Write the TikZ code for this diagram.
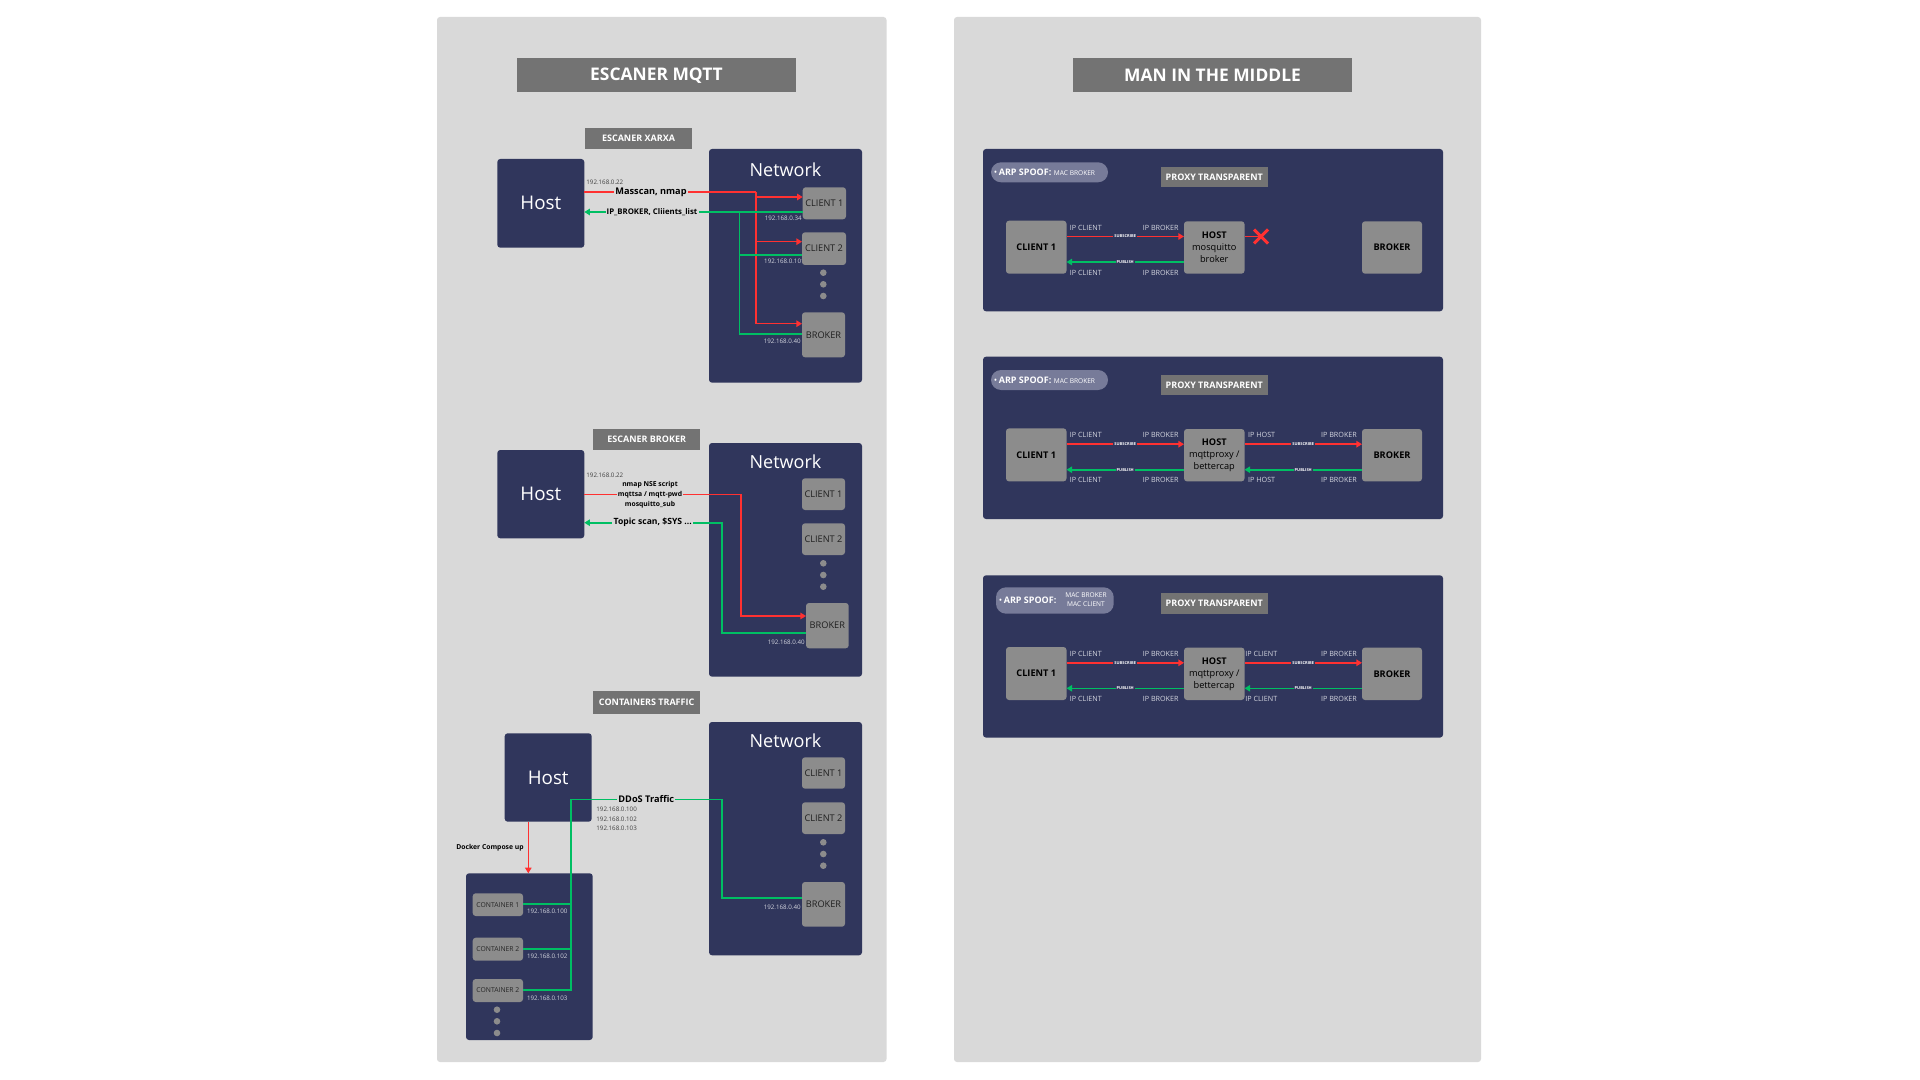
\documentclass[tikz,border=0pt]{standalone}
\usepackage{fontspec}
\setmainfont{Open Sans}
\usetikzlibrary{fit,arrows.meta}
\definecolor{panelgray}{HTML}{D9D9D9}
\definecolor{titlegray}{HTML}{737373}
\definecolor{navy}{HTML}{30365C}
\definecolor{nodegray}{HTML}{8C8C8C}
\definecolor{lred}{HTML}{FF3131}
\definecolor{lgreen}{HTML}{00BF63}
\definecolor{pillc}{HTML}{777B99}
\definecolor{iplight}{HTML}{D2D4DE}
\newcommand\fsz[1]{\fontsize{#1}{#1}\selectfont}
% \rbox[style]{name}{(x1,y1)}{(x2,y2)}{text}
\newcommand\rbox[5][]{%
  \node[#1, fit={#3 #4}] (#2) {};
  \node[#1, fill=none, draw=none, inner sep=0pt, rounded corners=0pt] (#2-t) at (#2.center) {#5};}
\begin{document}
\begin{tikzpicture}[x=0.5pt,y=-0.5pt,
  box/.style={inner sep=0pt, outer sep=0pt, rounded corners=1.5pt},
  navybox/.style={box, fill=navy},
  hostbox/.style={box, fill=navy, text=white, font=\fsz{9.4}},
  graybox/.style={box, fill=nodegray, text=black!88, font=\fsz{4.6}},
  cbox/.style={box, fill=nodegray, text=black!85, font=\fsz{3.4}},
  mgraybox/.style={box, fill=nodegray, text=black, align=center, font=\fontsize{4.6}{6}\selectfont},
  titlebox/.style={inner sep=0pt, fill=titlegray, text=white, font=\bfseries\fsz{8.7}},
  tagbox/.style={inner sep=0pt, fill=titlegray, text=white, font=\bfseries\fsz{4.5}},
  pillbox/.style={inner sep=0pt, fill=pillc, rounded corners=5pt},
  redln/.style={draw=lred, line width=0.8pt},
  grnln/.style={draw=lgreen, line width=0.8pt},
  arr/.style={-{Triangle[length=2.8pt,width=3.2pt]}},
  lbl/.style={inner sep=0.6pt, fill=panelgray, text=black, font=\bfseries\fsz{4.6}},
  ipdark/.style={inner sep=0pt, text=black!75, font=\fsz{3.1}},
  iplite/.style={inner sep=0pt, text=iplight, font=\fsz{3.1}},
  mip/.style={inner sep=0pt, text=iplight, font=\fsz{3.6}},
  sublab/.style={fill=navy, text=white, inner sep=0.5pt, font=\bfseries\fsz{2}},
  dotn/.style={circle, fill=nodegray, inner sep=0pt, minimum size=3.3pt},
  nettitle/.style={text=white, font=\fsz{9}, inner sep=0pt}]

\fill[white] (0,0) rectangle (1920,1080);
\useasboundingbox (0,0) rectangle (1920,1080);

% ===================== LEFT PANEL =====================
\node[box, fill=panelgray, fit={(437,17)(886.5,1062)}] (lpanel) {};
\rbox[titlebox]{t1}{(517,58)}{(796,92.5)}{ESCANER MQTT}

% ---- Section 1: ESCANER XARXA
\rbox[tagbox]{s1}{(585,128)}{(692,148.7)}{ESCANER XARXA}
\rbox[hostbox]{host1}{(497.3,159)}{(584.3,247.7)}{Host}
\node[navybox, fit={(709,149)(862,382.7)}] (net1) {};
\node[nettitle] (net1t) at (785.5,169.5) {Network};
\node[iplite, anchor=east] (ip11) at (802,218) {192.168.0.34};
\node[iplite, anchor=east] (ip12) at (805,261) {192.168.0.101};
\node[iplite, anchor=east] (ip13) at (801,341) {192.168.0.40};
\rbox[graybox]{c11}{(802.7,187.3)}{(846,219.3)}{CLIENT 1}
\rbox[graybox]{c12}{(802,232.3)}{(846,265)}{CLIENT 2}
\node[dotn] (d11) at (823.3,272.7) {};
\node[dotn] (d12) at (823.3,284.3) {};
\node[dotn] (d13) at (823.3,296) {};
\rbox[graybox]{b1}{(802,312.3)}{(845,357.3)}{BROKER}

\coordinate (j1) at (755.7,192);
\coordinate (g1) at (739.3,212);
\draw[redln] (host1.east|-j1) -- (j1);
\draw[redln,arr] (j1) |- (c11.west|-0,197);
\draw[redln,arr] (j1) |- (c12.west|-0,241.7);
\draw[redln,arr] (j1) |- (b1.west|-0,323.7);
\draw[grnln,arr] (c11.west|-g1) -- (host1.east|-g1);
\draw[grnln] (c12.west|-0,255) -| (g1);
\draw[grnln] (b1.west|-0,334.3) -| (g1);

\node[lbl] (l11) at (651,192) {Masscan, nmap};
\node[lbl, font=\bfseries\fsz{3.9}] (l12) at (652,212) {IP\_BROKER, Cliients\_list};
\node[ipdark, anchor=west] (ip10) at (586,182) {192.168.0.22};

% ---- Section 2: ESCANER BROKER
\rbox[tagbox]{s2}{(593,429)}{(700.3,450)}{ESCANER BROKER}
\rbox[hostbox]{host2}{(497.3,450)}{(584.3,538.3)}{Host}
\node[navybox, fit={(709,443)(862,676.7)}] (net2) {};
\node[nettitle] (net2t) at (785.5,461.5) {Network};
\rbox[graybox]{c21}{(802,478.3)}{(845,510)}{CLIENT 1}
\rbox[graybox]{c22}{(802,523.3)}{(845,555)}{CLIENT 2}
\node[dotn] (d21) at (823.3,563.3) {};
\node[dotn] (d22) at (823.3,575) {};
\node[dotn] (d23) at (823.3,586.7) {};
\rbox[graybox]{b2}{(806,603)}{(848.7,648.3)}{BROKER}
\node[iplite, anchor=east] (ip23) at (805,642.3) {192.168.0.40};

\coordinate (j2) at (741,494.3);
\coordinate (g2) at (722,522.7);
\draw[redln,arr] (host2.east|-j2) -- (j2) |- (b2.west|-0,616);
\draw[grnln,arr] (b2.west|-0,632.7) -| (g2) -- (host2.east|-g2);

\node[ipdark, anchor=west] (ip20) at (586,475.3) {192.168.0.22};
\node[lbl, align=center, font=\bfseries\fontsize{3.4}{4.8}\selectfont] (l21) at (650,494.8) {nmap NSE script\\mqttsa / mqtt-pwd\\mosquitto\_sub};
\node[lbl, font=\bfseries\fsz{4.3}] (l22) at (652.7,522.7) {Topic scan, \$SYS ...};

% ---- Section 3: CONTAINERS TRAFFIC
\rbox[tagbox]{s3}{(593,690.7)}{(700.3,714)}{CONTAINERS TRAFFIC}
\rbox[hostbox]{host3}{(504.7,733.3)}{(591.7,821.7)}{Host}
\node[navybox, fit={(709,722)(862,955.3)}] (net3) {};
\node[nettitle] (net3t) at (785.5,740.5) {Network};
\rbox[graybox]{c31}{(802,757.3)}{(845,788.7)}{CLIENT 1}
\rbox[graybox]{c32}{(802,802.3)}{(845,834)}{CLIENT 2}
\node[dotn] (d31) at (823.3,842.3) {};
\node[dotn] (d32) at (823.3,854) {};
\node[dotn] (d33) at (823.3,865.7) {};
\rbox[graybox]{b3}{(802,882)}{(845,926.7)}{BROKER}
\node[iplite, anchor=east] (ip33) at (801,907.3) {192.168.0.40};

\node[navybox, fit={(466,873.3)(592.7,1040)}] (cont) {};
\rbox[cbox]{k1}{(472.7,893.3)}{(523,916)}{CONTAINER 1}
\rbox[cbox]{k2}{(472.7,937.7)}{(523,960.7)}{CONTAINER 2}
\rbox[cbox]{k3}{(472.7,979)}{(523,1002)}{CONTAINER 2}
\node[dotn] (e1) at (497,1009.7) {};
\node[dotn] (e2) at (497,1021.3) {};
\node[dotn] (e3) at (497,1033) {};
\node[iplite, anchor=west] (ipk1) at (526.7,911.3) {192.168.0.100};
\node[iplite, anchor=west] (ipk2) at (526.7,956.3) {192.168.0.102};
\node[iplite, anchor=west] (ipk3) at (526.7,998.3) {192.168.0.103};

\coordinate (g3) at (571,799.3);
\coordinate (g3r) at (722,799.3);
\draw[grnln] (k1.east|-0,904) -| (g3);
\draw[grnln] (k3.east|-0,990) -| (g3);
\draw[grnln] (k2.east|-0,949) -- (g3|-0,949);
\draw[grnln] (g3) -- (g3r) |- (b3.west|-0,898);
\draw[redln,arr] (host3.south-|528.3,0) -- (cont.north-|528.3,0);

\node[lbl] (l31) at (646.3,799.3) {DDoS Traffic};
\node[ipdark, anchor=west, align=left, font=\fontsize{3.1}{4.75}\selectfont] (ip30) at (596,819) {192.168.0.100\\192.168.0.102\\192.168.0.103};
\node[lbl, font=\bfseries\fsz{3.4}] (l32) at (490,847.7) {Docker Compose up};

% ===================== RIGHT PANEL =====================
\node[box, fill=panelgray, fit={(954,17)(1481,1062)}] (rpanel) {};
\rbox[titlebox]{t2}{(1073,58)}{(1352,92.5)}{MAN IN THE MIDDLE}

% ---- MITM 1
\node[navybox, fit={(983,149)(1443,311.3)}] (m1) {};
\node[pillbox, fit={(991,162.3)(1108,182.3)}] (m1p) {};
\node[anchor=west, text=white, inner sep=0pt] (m1pt) at (993.5,172.3) {\fsz{4.5}•\,{\bfseries ARP SPOOF:}\;{\fsz{3.3}MAC BROKER}};
\rbox[tagbox]{m1x}{(1160.5,167)}{(1268,187.5)}{PROXY TRANSPARENT}
\rbox[mgraybox]{m1c}{(1006,220.7)}{(1066.5,273.7)}{\textbf{CLIENT 1}}
\rbox[mgraybox]{m1h}{(1184,221.3)}{(1244.5,273.7)}{\textbf{HOST}\\mosquitto\\broker}
\rbox[mgraybox]{m1b}{(1362,221.3)}{(1422,273.7)}{\textbf{BROKER}}
\draw[redln,arr] (m1c.east|-0,236.5) -- (m1h.west|-0,236.5) node[midway, sublab] {SUBSCRIBE};
\draw[grnln,arr] (m1h.west|-0,262) -- (m1c.east|-0,262) node[midway, sublab] {PUBLISH};
\node[mip, anchor=west] (m1l1) at (1069.5,227.5) {IP CLIENT};
\node[mip, anchor=east] (m1l2) at (1179,227.5) {IP BROKER};
\node[mip, anchor=west] (m1l3) at (1069.5,272.5) {IP CLIENT};
\node[mip, anchor=east] (m1l4) at (1179,272.5) {IP BROKER};
\coordinate (m1k) at (1261,236.5);
\draw[redln] (m1h.east|-m1k) -- (m1k);
\draw[lred, line width=1.5pt] ([shift={(-7,-7)}]m1k) -- ([shift={(7,7)}]m1k);
\draw[lred, line width=1.5pt] ([shift={(-7,7)}]m1k) -- ([shift={(7,-7)}]m1k);

% ---- MITM 2
\node[navybox, fit={(983,356.7)(1443,519)}] (m2) {};
\node[pillbox, fit={(991,370)(1108,390)}] (m2p) {};
\node[anchor=west, text=white, inner sep=0pt] (m2pt) at (993.5,380) {\fsz{4.5}•\,{\bfseries ARP SPOOF:}\;{\fsz{3.3}MAC BROKER}};
\rbox[tagbox]{m2x}{(1160.5,374.7)}{(1268,395.2)}{PROXY TRANSPARENT}
\rbox[mgraybox]{m2c}{(1006,428.4)}{(1066.5,481.4)}{\textbf{CLIENT 1}}
\rbox[mgraybox]{m2h}{(1184,429)}{(1244.5,481.4)}{\textbf{HOST}\\mqttproxy /\\bettercap}
\rbox[mgraybox]{m2b}{(1362,429)}{(1422,481.4)}{\textbf{BROKER}}
\draw[redln,arr] (m2c.east|-0,444.2) -- (m2h.west|-0,444.2) node[midway, sublab] {SUBSCRIBE};
\draw[grnln,arr] (m2h.west|-0,469.7) -- (m2c.east|-0,469.7) node[midway, sublab] {PUBLISH};
\draw[redln,arr] (m2h.east|-0,444.2) -- (m2b.west|-0,444.2) node[midway, sublab] {SUBSCRIBE};
\draw[grnln,arr] (m2b.west|-0,469.7) -- (m2h.east|-0,469.7) node[midway, sublab] {PUBLISH};
\node[mip, anchor=west] (m2l1) at (1069.5,435.2) {IP CLIENT};
\node[mip, anchor=east] (m2l2) at (1179,435.2) {IP BROKER};
\node[mip, anchor=west] (m2l3) at (1069.5,480.2) {IP CLIENT};
\node[mip, anchor=east] (m2l4) at (1179,480.2) {IP BROKER};
\node[mip, anchor=west] (m2l5) at (1247.7,435.2) {IP HOST};
\node[mip, anchor=east] (m2l6) at (1357.3,435.2) {IP BROKER};
\node[mip, anchor=west] (m2l7) at (1247.7,480.2) {IP HOST};
\node[mip, anchor=east] (m2l8) at (1357.3,480.2) {IP BROKER};

% ---- MITM 3
\node[navybox, fit={(983,575.3)(1443,737.6)}] (m3) {};
\node[pillbox, fit={(996,587.3)(1113.7,613.7)}] (m3p) {};
\node[anchor=west, text=white, inner sep=0pt] (m3pt) at (998.5,600.5) {\fsz{4.5}•\,{\bfseries ARP SPOOF:}};
\node[text=white, inner sep=0pt, align=center, font=\fontsize{3.3}{4.8}\selectfont] (m3pm) at (1086,599.5) {MAC BROKER\\MAC CLIENT};
\rbox[tagbox]{m3x}{(1160.5,593.3)}{(1268,613.8)}{PROXY TRANSPARENT}
\rbox[mgraybox]{m3c}{(1006,647)}{(1066.5,700)}{\textbf{CLIENT 1}}
\rbox[mgraybox]{m3h}{(1184,647.6)}{(1244.5,700)}{\textbf{HOST}\\mqttproxy /\\bettercap}
\rbox[mgraybox]{m3b}{(1362,647.6)}{(1422,700)}{\textbf{BROKER}}
\draw[redln,arr] (m3c.east|-0,662.8) -- (m3h.west|-0,662.8) node[midway, sublab] {SUBSCRIBE};
\draw[grnln,arr] (m3h.west|-0,688.3) -- (m3c.east|-0,688.3) node[midway, sublab] {PUBLISH};
\draw[redln,arr] (m3h.east|-0,662.8) -- (m3b.west|-0,662.8) node[midway, sublab] {SUBSCRIBE};
\draw[grnln,arr] (m3b.west|-0,688.3) -- (m3h.east|-0,688.3) node[midway, sublab] {PUBLISH};
\node[mip, anchor=west] (m3l1) at (1069.5,653.8) {IP CLIENT};
\node[mip, anchor=east] (m3l2) at (1179,653.8) {IP BROKER};
\node[mip, anchor=west] (m3l3) at (1069.5,698.8) {IP CLIENT};
\node[mip, anchor=east] (m3l4) at (1179,698.8) {IP BROKER};
\node[mip, anchor=west] (m3l5) at (1245,653.8) {IP CLIENT};
\node[mip, anchor=east] (m3l6) at (1357.3,653.8) {IP BROKER};
\node[mip, anchor=west] (m3l7) at (1245,698.8) {IP CLIENT};
\node[mip, anchor=east] (m3l8) at (1357.3,698.8) {IP BROKER};
\end{tikzpicture}
\end{document}
